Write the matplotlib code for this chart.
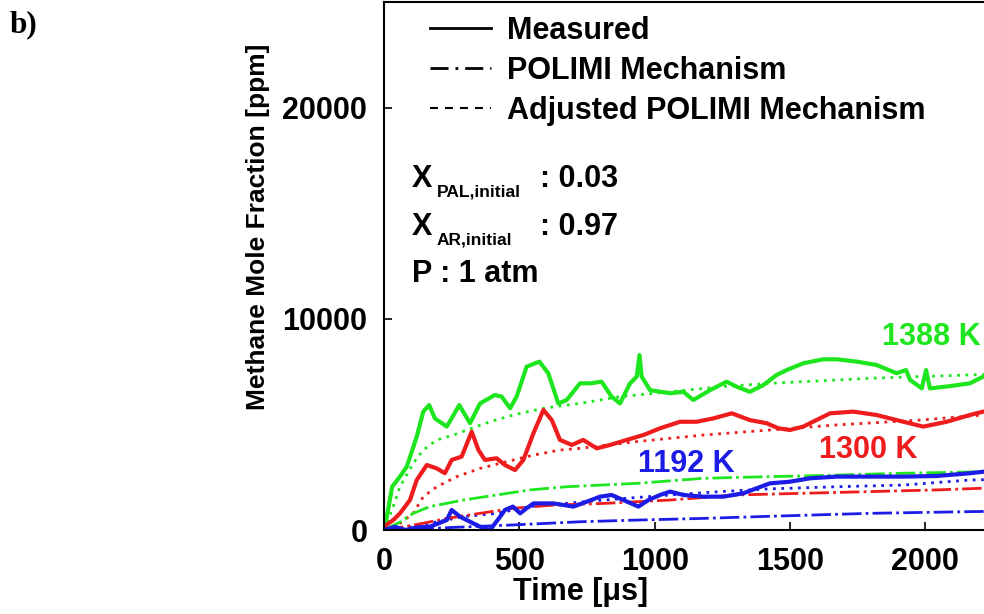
import matplotlib
matplotlib.use("Agg")
import matplotlib.pyplot as plt
from matplotlib.lines import Line2D
from matplotlib import font_manager

plt.rcParams['font.family'] = ['Liberation Sans', 'DejaVu Sans']
plt.rcParams['font.weight'] = 'bold'

# measured traces (time in us, CH4 in ppm)
t_meas_1388 = [0, 4, 30, 59, 84, 121, 145, 167, 188, 232, 278, 318, 355, 410, 435, 466, 490,
               527, 574, 607, 644, 675, 724, 761, 804, 841, 872, 909, 934, 944, 952, 983,
               1057, 1106, 1143, 1205, 1266, 1303, 1352, 1402, 1451, 1488, 1549, 1623, 1673,
               1747, 1820, 1894, 1929, 1944, 1987, 2003, 2017, 2091, 2165, 2214, 2240]
y_meas_1388 = [0, 160, 2050, 2530, 3000, 4420, 5610, 5920, 5290, 4900, 5920, 5060, 6000, 6400,
               6320, 5770, 6320, 7740, 7980, 7430, 6000, 6160, 6950, 6950, 7030, 6320, 6000,
               6950, 7270, 8290, 7270, 6630, 6480, 6550, 6160, 6630, 7030, 6790, 6550, 6870,
               7350, 7580, 7900, 8090, 8090, 7980, 7820, 7430, 7580, 7110, 6710, 7580, 6710,
               6820, 6950, 7270, 7350]

t_meas_1300 = [0, 4, 34, 59, 96, 121, 158, 195, 225, 250, 287, 324, 349, 373, 416, 447, 484,
               515, 552, 589, 620, 650, 694, 736, 786, 835, 897, 958, 1020, 1094, 1155, 1217,
               1285, 1352, 1414, 1457, 1500, 1549, 1648, 1734, 1820, 1919, 1993, 2079, 2165,
               2214, 2240]
y_meas_1300 = [0, 200, 470, 790, 1420, 2370, 3080, 2920, 2690, 3320, 3480, 4660, 3790, 3320,
               3400, 3080, 2840, 3320, 4580, 5690, 5210, 4270, 4030, 4270, 3870, 4030, 4270,
               4500, 4820, 5130, 5130, 5290, 5530, 5210, 5060, 4820, 4740, 4900, 5530, 5610,
               5450, 5130, 4900, 5130, 5450, 5610, 5650]

t_meas_1192 = [0, 40, 80, 120, 170, 232, 250, 281, 318, 355, 392, 429, 447, 476, 503, 527, 552,
               626, 700, 749, 798, 841, 884, 940, 977, 1020, 1057, 1106, 1180, 1254, 1328, 1377,
               1426, 1500, 1574, 1673, 1796, 1919, 2042, 2165, 2214, 2240]
y_meas_1192 = [0, 150, 0, 120, 160, 470, 950, 630, 390, 160, 0, 630, 950, 1110, 790, 1030, 1260,
               1260, 1110, 1340, 1580, 1660, 1420, 1110, 1420, 1660, 1820, 1660, 1580, 1580,
               1740, 1980, 2210, 2290, 2450, 2530, 2530, 2530, 2560, 2690, 2760, 2780]

# POLIMI mechanism (dash-dot)
t_pol = [0, 60, 108, 170, 293, 416, 540, 675, 934, 1180, 1426, 1549, 1919, 2214, 2500]
y_pol_1388 = [0, 380, 790, 1110, 1420, 1660, 1900, 2050, 2210, 2450, 2530, 2560, 2690, 2760, 2820]
t_pol_1300 = [0, 60, 145, 232, 355, 478, 626, 811, 1057, 1303, 1549, 1796, 2042, 2214, 2500]
y_pol_1300 = [0, 120, 320, 550, 790, 1030, 1180, 1260, 1420, 1660, 1740, 1820, 1900, 1980, 2050]
t_pol_1192 = [0, 100, 250, 478, 724, 934, 1180, 1426, 1796, 2165, 2500]
y_pol_1192 = [0, 40, 120, 240, 390, 470, 550, 650, 790, 870, 930]

# adjusted POLIMI mechanism (dotted)
t_adj_1388 = [0, 34, 59, 108, 145, 195, 256, 324, 392, 478, 589, 724, 872, 1057, 1242, 1426,
              1796, 2165, 2500]
y_adj_1388 = [0, 1110, 2050, 3160, 3790, 4270, 4500, 4820, 5130, 5450, 5770, 6000, 6320, 6550,
              6790, 6950, 7190, 7350, 7450]
t_adj_1300 = [0, 60, 108, 145, 195, 269, 355, 453, 552, 650, 724, 934, 1180, 1426, 1673, 1981,
              2214, 2500]
y_adj_1300 = [0, 320, 790, 1580, 2050, 2530, 2920, 3240, 3550, 3790, 3870, 4190, 4500, 4740,
              4980, 5210, 5450, 5550]
t_adj_1192 = [0, 100, 200, 293, 416, 540, 811, 1057, 1242, 1426, 1673, 1919, 2165, 2500]
y_adj_1192 = [0, 150, 400, 630, 790, 1110, 1420, 1660, 1820, 1950, 2050, 2130, 2370, 2450]

green = '#1ee61e'
red = '#ee1c1c'
blue = '#1c1ce6'

dashdot = (0, (7, 1.5, 1, 1.5))
dotted = (0, (1, 2))

fig = plt.figure(figsize=(9.84, 6.14), dpi=100)
ax = fig.add_axes([384 / 984, 84 / 614, 676.6 / 984, 527.5 / 614])

ax.plot(t_adj_1388, y_adj_1388, color=green, lw=2, ls=dotted)
ax.plot(t_adj_1300, y_adj_1300, color=red, lw=2, ls=dotted)
ax.plot(t_adj_1192, y_adj_1192, color=blue, lw=2, ls=dotted)
ax.plot(t_pol, y_pol_1388, color=green, lw=2, ls=dashdot)
ax.plot(t_pol_1300, y_pol_1300, color=red, lw=2, ls=dashdot)
ax.plot(t_pol_1192, y_pol_1192, color=blue, lw=2, ls=dashdot)
ax.plot(t_meas_1388, y_meas_1388, color=green, lw=3)
ax.plot(t_meas_1300, y_meas_1300, color=red, lw=3)
ax.plot(t_meas_1192, y_meas_1192, color=blue, lw=3)

ax.set_xlim(0, 2500)
ax.set_ylim(0, 25000)
ax.set_xticks([0, 500, 1000, 1500, 2000])
ax.set_yticks([0, 10000, 20000])
ax.tick_params(direction='in', length=6, width=1.2, labelsize=22)
ax.tick_params(axis='x', pad=12)
ax.tick_params(axis='y', pad=12)
for sp in ax.spines.values():
    sp.set_linewidth(1.5)
ax.spines['right'].set_visible(False)

ax.set_xlabel('Time [μs]', fontsize=22, fontweight='bold')
ax.xaxis.set_label_coords(0.291, -0.09)

names = {f.name for f in font_manager.fontManager.ttflist}
if 'Liberation Sans Narrow' in names:
    ax.set_ylabel('Methane Mole Fraction [ppm]', fontsize=23, fontweight='bold',
                  family=['Liberation Sans Narrow', 'Liberation Sans'])
else:
    ax.set_ylabel('Methane Mole Fraction [ppm]', fontsize=19, fontweight='bold')
ax.yaxis.set_label_coords(-0.168, 0.574)

handles = [Line2D([], [], color='black', lw=2),
           Line2D([], [], color='black', lw=2, ls=(0, (6.5, 2.5, 1, 2.5))),
           Line2D([], [], color='black', lw=1.5, ls=(0, (3.8, 3.4)))]
ax.legend(handles, ['Measured', 'POLIMI Mechanism', 'Adjusted POLIMI Mechanism'],
          loc='upper left', bbox_to_anchor=(0.068, 0.975), frameon=False, fontsize=22,
          handlelength=2.0, handletextpad=0.52, labelspacing=0.33, borderpad=0,
          borderaxespad=0)

# condition block: X with subscripts
x0 = 0.0414
ax.text(x0, 0.6508, 'X', transform=ax.transAxes, fontsize=22, va='baseline')
ax.text(0.0783, 0.6319, 'PAL,initial', transform=ax.transAxes, fontsize=12.5, va='baseline')
ax.text(0.2306, 0.6508, ': 0.03', transform=ax.transAxes, fontsize=22, va='baseline')
ax.text(x0, 0.5592, 'X', transform=ax.transAxes, fontsize=22, va='baseline')
ax.text(0.0783, 0.5403, 'AR,initial', transform=ax.transAxes, fontsize=12.5, va='baseline')
ax.text(0.2306, 0.5592, ': 0.97', transform=ax.transAxes, fontsize=22, va='baseline')
ax.text(x0, 0.4707, 'P : 1 atm', transform=ax.transAxes, fontsize=22, va='baseline')

ax.text(1840, 9150, '1388 K', color=green, fontsize=22, va='center')
ax.text(1607, 3780, '1300 K', color=red, fontsize=22, va='center')
ax.text(940, 3150, '1192 K', color=blue, fontsize=22, va='center')

fig.text(0.010, 0.984, 'b)', family='Liberation Serif', fontsize=22.5, fontweight='bold',
         va='top')

fig.savefig('out.png', dpi=100)
